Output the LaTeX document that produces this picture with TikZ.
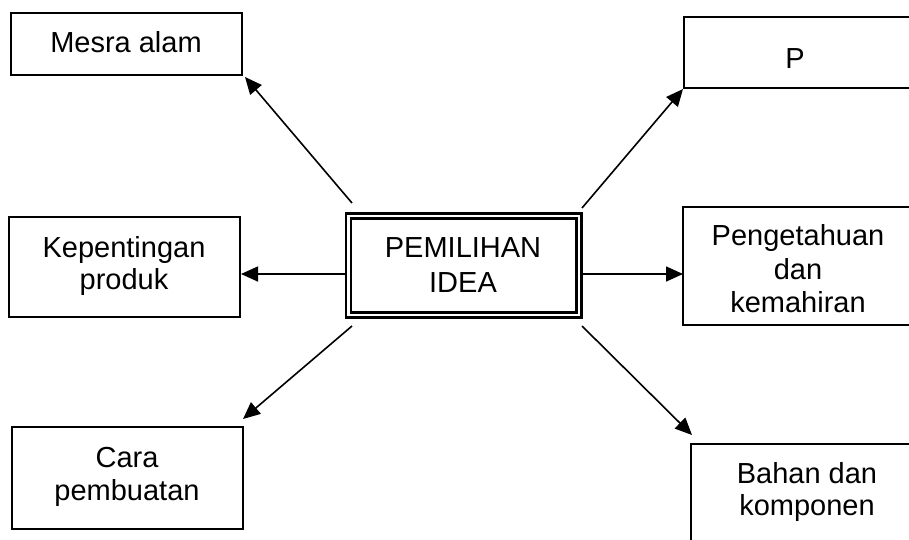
\documentclass[tikz,border=0pt]{standalone}
\usepackage{fontspec}
\setmainfont{Liberation Sans}
\usetikzlibrary{arrows.meta}
\begin{document}
\begin{tikzpicture}[x=1pt,y=-1pt,
  box/.style={draw, line width=1.8pt, inner sep=0pt, outer sep=0pt, anchor=north west},
  mainbox/.style={draw, double, double distance=2.75pt, line width=2.6pt, inner sep=0pt, outer sep=0pt, anchor=north west},
  txt/.style={inner sep=0pt, anchor=base, font=\fontsize{29}{33}\selectfont},
  arr/.style={line width=1.6pt, -{Triangle[length=17pt,width=15pt]}}]
\useasboundingbox (0,0) rectangle (909,539);
\clip (0,0) rectangle (909,539);

% boxes
\node[box, minimum width=231pt, minimum height=62pt] (mesra) at (11,13) {};
\node[box, minimum width=250pt, minimum height=71pt] (pbox) at (684,17) {};
\node[box, minimum width=231pt, minimum height=100pt] (kep) at (9,217) {};
\node[box, minimum width=250pt, minimum height=118pt] (peng) at (683,207) {};
\node[box, minimum width=231pt, minimum height=102pt] (cara) at (12,427) {};
\node[box, minimum width=250pt, minimum height=120pt] (bahan) at (691,444) {};
\node[mainbox, minimum width=230.5pt, minimum height=99pt] (c) at (348.5,216) {};

% texts
\node[txt] (cT1) at (463,257) {PEMILIHAN};
\node[txt] (cT2) at (463,292) {IDEA};
\node[txt] (mesraT) at (126,52) {Mesra alam};
\node[txt] (pT) at (795,68) {P};
\node[txt] (kepT1) at (124,257) {Kepentingan};
\node[txt] (kepT2) at (124,289) {produk};
\node[txt] (pengT1) at (798,245) {Pengetahuan};
\node[txt] (pengT2) at (798,279) {dan};
\node[txt] (pengT3) at (798,312) {kemahiran};
\node[txt] (caraT1) at (127,467) {Cara};
\node[txt] (caraT2) at (127,500) {pembuatan};
\node[txt] (bahanT1) at (807,483) {Bahan dan};
\node[txt] (bahanT2) at (807,515) {komponen};

% arrows
\draw[arr] ([shift={(3.5,-13)}]c.north west) -- ([shift={(3,2)}]mesra.south east);
\draw[arr] ([shift={(3,-8)}]c.north east) -- ([shift={(-1,1)}]pbox.south west);
\draw[arr] ([shift={(-2.5,8.5)}]c.west) -- ([shift={(1,7)}]kep.east);
\draw[arr] ([shift={(3,8.5)}]c.east) -- ([shift={(0,8)}]peng.west);
\draw[arr] ([shift={(3.5,11)}]c.south west) -- ([shift={(0,-8)}]cara.north east);
\draw[arr] ([shift={(3,11)}]c.south east) -- ([shift={(1,-9)}]bahan.north west);
\end{tikzpicture}
\end{document}
